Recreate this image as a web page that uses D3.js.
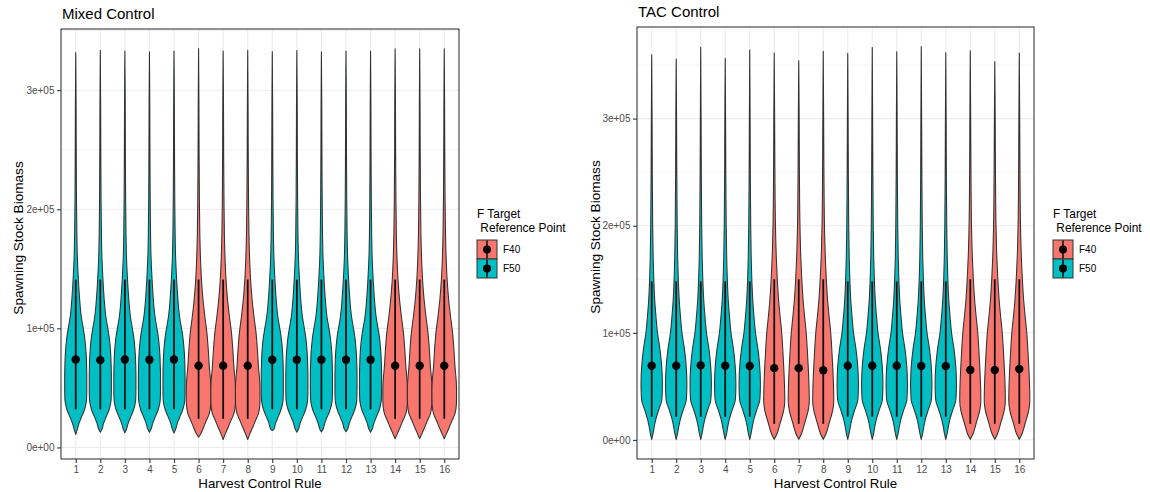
<!DOCTYPE html>
<html>
<head>
<meta charset="utf-8">
<script src="https://cdn.jsdelivr.net/npm/d3@7"></script>
<style>
  html, body { margin: 0; padding: 0; background: #fff; }
  svg { display: block; font-family: "Liberation Sans", Arial, sans-serif; }
</style>
</head>
<body>
<svg id="chart" width="1150" height="492"></svg>
<script>
// ---------------- DATA ----------------
const rules = ["1","2","3","4","5","6","7","8","9","10","11","12","13","14","15","16"];
const fTarget = ["F50","F50","F50","F50","F50","F40","F40","F40","F50","F50","F50","F50","F50","F40","F40","F40"];
const legendLabels = ["F40", "F50"];
const yTickValues = [0, 100000, 200000, 300000];
const yTickLabels = ["0e+00", "1e+05", "2e+05", "3e+05"];

// Mixed Control (values in tonnes)
const mixedMin    = [10900,12800,12300,12800,12100,8600,6700,6700,14200,12800,13000,13300,12800,7300,7300,7300];
const mixedMax    = [331600,333600,333000,332200,333000,335000,333000,333600,332500,333300,332200,333000,333000,334700,334700,334700];
const mixedMedian = [73900,73300,73900,73600,73900,68600,68600,68600,73600,73600,73600,73600,73600,68600,68600,68600];
const mixedLow    = [32000,32000,32000,32000,32000,24000,24000,24000,32000,32000,32000,32000,32000,24000,24000,24000];
const mixedHigh   = [141000,141000,141000,141000,141000,141000,141000,141000,141000,141000,141000,141000,141000,141000,141000,141000];

// TAC Control
const tacMin    = [500,500,500,500,500,500,500,500,500,500,500,500,500,500,500,500];
const tacMax    = [359500,355700,366500,356300,364100,361300,354100,362800,361000,366300,362400,367200,361500,363400,353200,361300];
const tacMedian = [69300,69300,69600,69300,69000,67000,67000,65000,69300,69300,69300,69000,68900,65200,65200,66200];
const tacLow    = [21500,21500,21500,21500,21500,15000,15000,15000,21500,21500,21500,21500,21500,15000,15000,15000];
const tacHigh   = [148000,148000,148000,148000,148000,150000,150000,150000,148000,148000,148000,148000,148000,150000,150000,150000];

// Violin density profiles (value, relative density), shared within a group
const mixedF50Values  = [15000,20000,25000,30000,35000,40000,50000,60000,70000,78000,85000,92000,100000,110000,124000,140000,160000,180000,210000,250000,290000];
const mixedF50Density = [0.12,0.26,0.45,0.65,0.80,0.88,0.90,0.90,0.88,0.85,0.80,0.73,0.61,0.45,0.32,0.22,0.13,0.09,0.06,0.04,0.027];
const mixedF40Values  = [12000,17000,23000,28000,33000,40000,50000,58000,67000,82000,96000,110000,124000,140000,160000,180000,210000,250000,290000];
const mixedF40Density = [0.20,0.41,0.65,0.86,0.96,1.00,1.00,0.96,0.88,0.79,0.68,0.51,0.36,0.24,0.15,0.10,0.065,0.04,0.027];
const tacF50Values  = [6500,13000,19000,28000,37000,45000,53000,68000,84000,100000,115000,130000,150000,170000,200000,250000,300000];
const tacF50Density = [0.12,0.22,0.33,0.57,0.82,0.86,0.87,0.82,0.68,0.47,0.35,0.25,0.17,0.12,0.08,0.047,0.03];
const tacF40Values  = [6500,16000,28000,37000,50000,67000,84000,100000,115000,130000,150000,170000,200000,250000,300000];
const tacF40Density = [0.25,0.49,0.78,0.86,0.84,0.78,0.70,0.61,0.48,0.36,0.25,0.17,0.10,0.055,0.033];

const colors = { F40: "#F8766D", F50: "#00BFC4" };

// ---------------- LAYOUT ----------------
const svg = d3.select("#chart");
svg.append("rect").attr("width", 1150).attr("height", 492).attr("fill", "#fff");

const panels = [
  { title: "Mixed Control", x0: 61, x1: 459, y0: 29, y1: 459,
    min: mixedMin, max: mixedMax, med: mixedMedian, lo: mixedLow, hi: mixedHigh,
    prof: { F50: [mixedF50Values, mixedF50Density], F40: [mixedF40Values, mixedF40Density] },
    ytitleX: 23, legendX: 477 },
  { title: "TAC Control", x0: 637, x1: 1034, y0: 27, y1: 459,
    min: tacMin, max: tacMax, med: tacMedian, lo: tacLow, hi: tacHigh,
    prof: { F50: [tacF50Values, tacF50Density], F40: [tacF40Values, tacF40Density] },
    ytitleX: 600, legendX: 1053 }
];

panels.forEach(p => {
  const g = svg.append("g");
  const lo = d3.min(p.min), hi = d3.max(p.max), r = hi - lo;
  const y = d3.scaleLinear().domain([lo - 0.05 * r, hi + 0.05 * r]).range([p.y1, p.y0]);
  const x = d3.scalePoint().domain(rules).range([p.x0, p.x1]).padding(0.6);
  const step = x.step();
  const w = d3.scaleLinear().domain([0, 1]).range([0, step * 0.5]);

  g.append("rect").attr("x", p.x0).attr("y", p.y0).attr("width", p.x1 - p.x0).attr("height", p.y1 - p.y0).attr("fill", "#fff");

  // minor gridlines
  const minor = yTickValues.slice(0, -1).map((v, i) => (v + yTickValues[i + 1]) / 2).concat([yTickValues[yTickValues.length - 1] + 50000]);
  g.selectAll(".gmin").data(minor.filter(v => y(v) > p.y0 && y(v) < p.y1)).enter().append("line")
    .attr("x1", p.x0).attr("x2", p.x1).attr("y1", d => y(d)).attr("y2", d => y(d))
    .attr("stroke", "#ebebeb").attr("stroke-width", 0.55);
  // major gridlines
  g.selectAll(".gmaj").data(yTickValues).enter().append("line")
    .attr("x1", p.x0).attr("x2", p.x1).attr("y1", d => y(d)).attr("y2", d => y(d))
    .attr("stroke", "#ebebeb").attr("stroke-width", 1.07);
  g.selectAll(".gx").data(rules).enter().append("line")
    .attr("x1", d => x(d)).attr("x2", d => x(d)).attr("y1", p.y0).attr("y2", p.y1)
    .attr("stroke", "#ebebeb").attr("stroke-width", 1.07);

  // violins
  const area = d3.area()
    .y(d => y(d.v))
    .x0(d => d.cx - w(d.d))
    .x1(d => d.cx + w(d.d))
    .curve(d3.curveMonotoneY);

  rules.forEach((rule, i) => {
    const grp = fTarget[i];
    const [pv, pd] = p.prof[grp];
    const cx = x(rule);
    const pts = [{ v: p.min[i], d: 0, cx }];
    pv.forEach((v, k) => { if (v > p.min[i] && v < p.max[i]) pts.push({ v, d: pd[k], cx }); });
    pts.push({ v: p.max[i], d: 0, cx });
    g.append("path").attr("d", area(pts))
      .attr("fill", colors[grp]).attr("stroke", "#333333").attr("stroke-width", 1.07)
      .attr("stroke-linejoin", "round");
  });

  // pointranges
  rules.forEach((rule, i) => {
    const cx = x(rule);
    g.append("line").attr("x1", cx).attr("x2", cx).attr("y1", y(p.lo[i])).attr("y2", y(p.hi[i]))
      .attr("stroke", "#111").attr("stroke-width", 1.8);
    g.append("circle").attr("cx", cx).attr("cy", y(p.med[i])).attr("r", 4.2).attr("fill", "#000");
  });

  // panel border
  g.append("rect").attr("x", p.x0).attr("y", p.y0).attr("width", p.x1 - p.x0).attr("height", p.y1 - p.y0)
    .attr("fill", "none").attr("stroke", "#333333").attr("stroke-width", 1.07);

  // axes
  const ya = g.append("g").attr("transform", `translate(${p.x0},0)`)
    .call(d3.axisLeft(y).tickValues(yTickValues).tickFormat((d, i) => yTickLabels[i]).tickSize(4).tickPadding(2.5));
  const xa = g.append("g").attr("transform", `translate(0,${p.y1})`)
    .call(d3.axisBottom(x).tickSize(4).tickPadding(3));
  [ya, xa].forEach(a => {
    a.select(".domain").remove();
    a.selectAll(".tick line").attr("stroke", "#333333").attr("stroke-width", 1.07);
    a.selectAll(".tick text").attr("fill", "#4d4d4d").style("font-size", "10px")
      .style("font-family", "'Liberation Sans', Arial, sans-serif");
  });

  // titles
  g.append("text").attr("x", p.x0 + 1).attr("y", p.y0 - 10).text(p.title)
    .style("font-size", "15px").attr("fill", "#000");
  g.append("text").attr("x", (p.x0 + p.x1) / 2).attr("y", 488).attr("text-anchor", "middle")
    .text("Harvest Control Rule").style("font-size", "13.3px").attr("fill", "#000");
  g.append("text").attr("transform", `translate(${p.ytitleX},${(p.y0 + p.y1) / 2 - 6}) rotate(-90)`)
    .attr("text-anchor", "middle").text("Spawning Stock Biomass").style("font-size", "13.6px").attr("fill", "#000");

  // legend
  const lg = g.append("g").attr("transform", `translate(${p.legendX},0)`);
  lg.append("text").attr("x", 0).attr("y", 218).text("F Target").style("font-size", "11.9px");
  lg.append("text").attr("x", 0).attr("y", 232).text("\u00a0Reference Point").style("font-size", "11.9px");
  legendLabels.forEach((lab, k) => {
    const ky = 240 + k * 19;
    lg.append("rect").attr("x", 0).attr("y", ky).attr("width", 20).attr("height", 19)
      .attr("fill", colors[lab]).attr("stroke", "#333333").attr("stroke-width", 1);
    lg.append("line").attr("x1", 10).attr("x2", 10).attr("y1", ky + 0.5).attr("y2", ky + 18.5)
      .attr("stroke", "#111").attr("stroke-width", 1.6);
    lg.append("circle").attr("cx", 10).attr("cy", ky + 9.5).attr("r", 4).attr("fill", "#000");
    lg.append("text").attr("x", 26).attr("y", ky + 9.5).attr("dy", "0.35em").text(lab)
      .style("font-size", "10px").attr("fill", "#000");
  });
});
</script>
</body>
</html>
